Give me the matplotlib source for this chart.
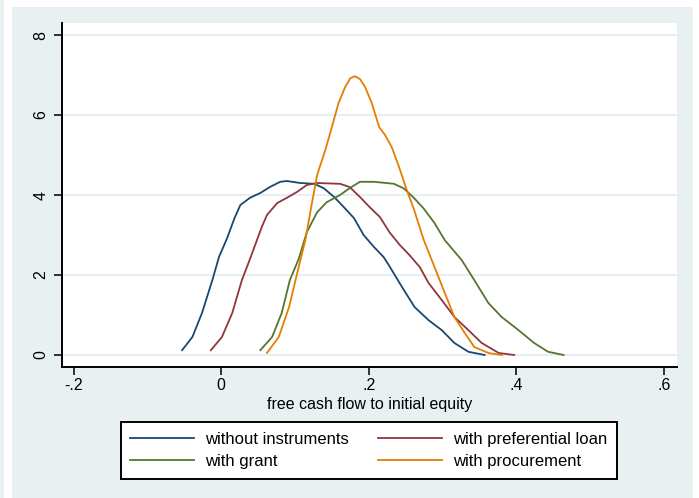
import matplotlib
matplotlib.use("Agg")
import matplotlib.pyplot as plt
from matplotlib.patches import Rectangle

plt.rcParams['font.family'] = ['Liberation Sans', 'DejaVu Sans']

# Kernel density estimates of free cash flow to initial equity
labels = ["without instruments", "with preferential loan", "with grant", "with procurement"]
colors = ["#1a476f", "#90353b", "#55752f", "#e37e00"]

x_none = [-0.053, -0.039, -0.026, -0.012, -0.003, 0.008, 0.018, 0.026, 0.039, 0.053,
          0.066, 0.080, 0.089, 0.107, 0.126, 0.139, 0.153, 0.166, 0.180, 0.193,
          0.207, 0.220, 0.227, 0.245, 0.262, 0.281, 0.299, 0.316, 0.335, 0.357]
y_none = [0.12, 0.45, 1.05, 1.87, 2.45, 2.92, 3.42, 3.75, 3.93, 4.05,
          4.20, 4.33, 4.35, 4.30, 4.28, 4.17, 3.95, 3.70, 3.42, 3.00,
          2.70, 2.45, 2.25, 1.70, 1.20, 0.87, 0.62, 0.30, 0.08, 0.00]

x_loan = [-0.014, 0.001, 0.015, 0.028, 0.038, 0.046, 0.055, 0.062, 0.076, 0.089,
          0.103, 0.116, 0.130, 0.161, 0.174, 0.188, 0.201, 0.215, 0.228, 0.242,
          0.255, 0.269, 0.281, 0.299, 0.316, 0.335, 0.353, 0.376, 0.397]
y_loan = [0.12, 0.45, 1.05, 1.87, 2.35, 2.75, 3.20, 3.50, 3.80, 3.93,
          4.08, 4.25, 4.30, 4.28, 4.20, 3.95, 3.70, 3.45, 3.07, 2.75,
          2.50, 2.20, 1.80, 1.37, 0.95, 0.62, 0.30, 0.05, 0.00]

x_grant = [0.053, 0.069, 0.082, 0.093, 0.105, 0.116, 0.130, 0.143, 0.161, 0.174,
           0.188, 0.207, 0.234, 0.247, 0.261, 0.274, 0.289, 0.303, 0.326, 0.343,
           0.362, 0.380, 0.403, 0.424, 0.443, 0.464]
y_grant = [0.12, 0.45, 1.05, 1.87, 2.40, 3.07, 3.57, 3.82, 4.00, 4.17,
           4.33, 4.33, 4.28, 4.17, 3.93, 3.67, 3.30, 2.87, 2.37, 1.87,
           1.30, 0.95, 0.62, 0.30, 0.08, 0.00]

x_proc = [0.062, 0.078, 0.092, 0.103, 0.114, 0.122, 0.130, 0.141, 0.150, 0.159,
          0.168, 0.175, 0.181, 0.188, 0.195, 0.204, 0.214, 0.222, 0.231, 0.241,
          0.250, 0.261, 0.274, 0.289, 0.303, 0.316, 0.330, 0.343, 0.362, 0.380]
y_proc = [0.05, 0.45, 1.20, 2.05, 2.87, 3.70, 4.50, 5.12, 5.70, 6.30,
          6.70, 6.92, 6.97, 6.90, 6.70, 6.30, 5.70, 5.50, 5.20, 4.70,
          4.20, 3.65, 2.90, 2.20, 1.55, 0.95, 0.55, 0.20, 0.05, 0.00]

series = [(x_none, y_none), (x_loan, y_loan), (x_grant, y_grant), (x_proc, y_proc)]

x_ticks = [-0.2, 0.0, 0.2, 0.4, 0.6]
x_tick_labels = ["-.2", "0", ".2", ".4", ".6"]
y_ticks = [0, 2, 4, 6, 8]
y_tick_labels = ["0", "2", "4", "6", "8"]

W, H = 699, 498
fig = plt.figure(figsize=(W / 100, H / 100), dpi=100)
fig.patch.set_facecolor("white")

region = "#e8f0f2"
fig.patches.append(Rectangle((12 / W, 0), (693 - 12) / W, (H - 7) / H,
                             transform=fig.transFigure, facecolor=region,
                             edgecolor="none", zorder=-10))
fig.patches.append(Rectangle((0, 0), 4 / W, 1, transform=fig.transFigure,
                             facecolor=region, edgecolor="none", zorder=-10))

ax = fig.add_axes([62 / W, (H - 367) / H, (677 - 62) / W, (367 - 23) / H])
ax.set_facecolor("white")

lines = []
for (xs, ys), c, lab in zip(series, colors, labels):
    ln, = ax.plot(xs, ys, color=c, lw=1.3, label=lab, solid_joinstyle="round")
    lines.append(ln)

ax.set_xlim(-0.2157, 0.6176)
ax.set_ylim(-0.3, 8.3)
ax.set_xticks(x_ticks)
ax.set_xticklabels(x_tick_labels)
ax.set_yticks(y_ticks)
ax.set_yticklabels(y_tick_labels, rotation=90, va="center")

ax.grid(axis="y", color="#e6eef1", lw=1.3)
ax.set_axisbelow(True)
for s in ["top", "right"]:
    ax.spines[s].set_visible(False)
for s in ["left", "bottom"]:
    ax.spines[s].set_linewidth(1.4)
    ax.spines[s].set_color("black")
ax.tick_params(length=5.8, width=1.1, labelsize=11.5, colors="black", pad=2)
ax.tick_params(axis="y", pad=4)

ax.set_xlabel("free cash flow to initial equity", fontsize=11.5, labelpad=3)

# two columns, filled row by row
order = [0, 2, 1, 3]
leg = fig.legend([lines[i] for i in order], [labels[i] for i in order],
                 loc="center", bbox_to_anchor=(369 / W, (H - 450.5) / H),
                 ncol=2, fontsize=12, frameon=True, fancybox=False,
                 handlelength=3.84, handletextpad=0.66, columnspacing=1.74,
                 borderpad=0.58, labelspacing=0.43)
frame = leg.get_frame()
frame.set_edgecolor("black")
frame.set_linewidth(1.4)
frame.set_facecolor("white")
frame.set_alpha(1)

fig.savefig("out.png", dpi=100, facecolor=fig.get_facecolor())
